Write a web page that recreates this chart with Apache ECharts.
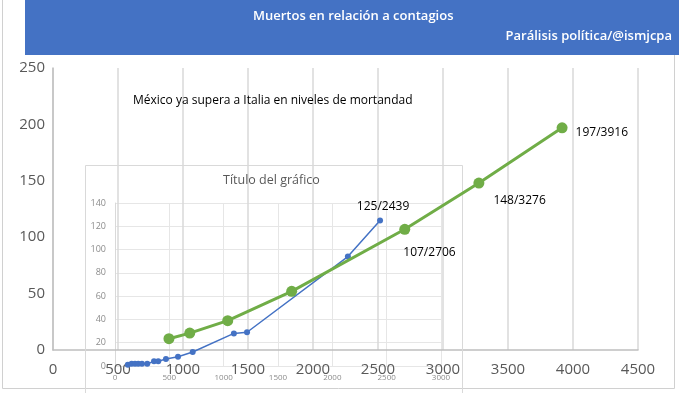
<!DOCTYPE html>
<html><head><meta charset="utf-8">
<script src="https://cdn.jsdelivr.net/npm/echarts@6/dist/echarts.min.js"></script>
<style>html,body{margin:0;padding:0;background:#fff}#c{width:679px;height:393px}</style>
</head><body><div id="c"></div>
<script>
// Italy (green, main axes): active cases vs deaths
const italyCases  = [892, 1052, 1344, 1836, 2706, 3276, 3916];
const italyDeaths = [10, 15, 26, 52, 107, 148, 197];
// Mexico (blue, inset axes): cases vs deaths
const mexicoCases  = [118, 153, 184, 214, 248, 297, 359, 398, 469, 580, 715, 1094, 1215, 2143, 2439];
const mexicoDeaths = [1, 2, 2, 2, 2, 2, 4, 4, 6, 8, 12, 28, 29, 94, 125];
// axes ticks
const mainXTicks = [0, 500, 1000, 1500, 2000, 2500, 3000, 3500, 4000, 4500];
const mainYTicks = [0, 50, 100, 150, 200, 250];
const insetXTicks = [0, 500, 1000, 1500, 2000, 2500, 3000];
const insetYTicks = [0, 20, 40, 60, 80, 100, 120, 140];

const FONT = '"Open Sans", "Liberation Sans", sans-serif';
const plain = v => String(v);
const greenLabelOffsets = {4: [-12, 23], 5: [4, 18], 6: [3, 5]};

const greenData = italyCases.map((x, i) => {
  const item = {value: [x, italyDeaths[i]]};
  if (greenLabelOffsets[i]) {
    item.label = {show: true, position: 'right', offset: greenLabelOffsets[i],
      formatter: p => p.value[1] + '/' + p.value[0],
      color: '#000', fontSize: 12, fontFamily: FONT};
  }
  return item;
});
const blueData = mexicoCases.map((x, i) => {
  const item = {value: [x, mexicoDeaths[i]]};
  if (i === mexicoCases.length - 1) {
    item.label = {show: true, position: 'top', offset: [3, 0],
      formatter: p => p.value[1] + '/' + p.value[0],
      color: '#000', fontSize: 12, fontFamily: FONT};
  }
  return item;
});

const chart = echarts.init(document.getElementById('c'), null, {renderer: 'canvas'});
chart.setOption({
  animation: false,
  backgroundColor: '#fff',
  graphic: [
    {type: 'rect', shape: {x: 2.5, y: -1, width: 672, height: 389.5}, style: {fill: 'none', stroke: '#d0d0d0', lineWidth: 1}, z: 0},
    {type: 'rect', shape: {x: 25, y: 0, width: 654, height: 55}, style: {fill: '#4472C4'}, z: 1},
    {type: 'text', left: 253, top: 10, style: {text: 'Muertos en relación a contagios', fill: '#fff', font: '600 13px ' + FONT}, z: 2},
    {type: 'text', right: 7, top: 30, style: {text: 'Parálisis política/@ismjcpa', fill: '#fff', font: '600 13px ' + FONT}, z: 2},
    {type: 'text', left: 133, top: 95, style: {text: 'México ya supera a Italia en niveles de mortandad', fill: '#000', font: '12px ' + FONT}, z: 2},
    {type: 'rect', shape: {x: 85.5, y: 165.5, width: 377, height: 240}, style: {fill: 'none', stroke: '#d9d9d9', lineWidth: 1}, z: 1},
    {type: 'text', left: 223, top: 174, style: {text: 'Título del gráfico', fill: '#595959', font: '12.5px ' + FONT}, z: 2}
  ],
  grid: [
    {left: 53, top: 68, width: 585, height: 282, containLabel: false},
    {left: 115, top: 203, width: 326, height: 163, containLabel: false}
  ],
  xAxis: [
    {gridIndex: 0, type: 'value', min: mainXTicks[0], max: mainXTicks[mainXTicks.length - 1], interval: 500,
      axisLine: {show: true, lineStyle: {color: '#bfbfbf', width: 1.5}}, axisTick: {show: false},
      splitLine: {show: true, lineStyle: {color: '#d9d9d9', width: 1.5}},
      axisLabel: {color: '#595959', fontSize: 15, margin: 12, fontFamily: FONT, formatter: plain}},
    {gridIndex: 1, type: 'value', min: insetXTicks[0], max: insetXTicks[insetXTicks.length - 1], interval: 500,
      axisLine: {show: false}, axisTick: {show: false},
      splitLine: {show: true, lineStyle: {color: '#e6e6e6', width: 1}},
      axisLabel: {color: '#8c8c8c', fontSize: 8, margin: 8, fontFamily: FONT, formatter: plain}}
  ],
  yAxis: [
    {gridIndex: 0, type: 'value', min: mainYTicks[0], max: mainYTicks[mainYTicks.length - 1], interval: 50,
      axisLine: {show: true, lineStyle: {color: '#bfbfbf', width: 1.5}}, axisTick: {show: false},
      splitLine: {show: false},
      axisLabel: {color: '#595959', fontSize: 15, margin: 8, fontFamily: FONT, formatter: plain}},
    {gridIndex: 1, type: 'value', min: insetYTicks[0], max: insetYTicks[insetYTicks.length - 1], interval: 20,
      axisLine: {show: true, lineStyle: {color: '#d9d9d9', width: 1}}, axisTick: {show: false},
      splitLine: {show: true, lineStyle: {color: '#e6e6e6', width: 1}},
      axisLabel: {color: '#8c8c8c', fontSize: 9, margin: 9, fontFamily: FONT, formatter: plain}}
  ],
  series: [
    {type: 'line', xAxisIndex: 1, yAxisIndex: 1, data: blueData, symbol: 'circle', symbolSize: 6,
      lineStyle: {color: '#4472C4', width: 1.5}, itemStyle: {color: '#4472C4'}, z: 3},
    {type: 'line', xAxisIndex: 0, yAxisIndex: 0, data: greenData, symbol: 'circle', symbolSize: 11,
      lineStyle: {color: '#70AD47', width: 3}, itemStyle: {color: '#70AD47'}, z: 4}
  ]
});
</script></body></html>
